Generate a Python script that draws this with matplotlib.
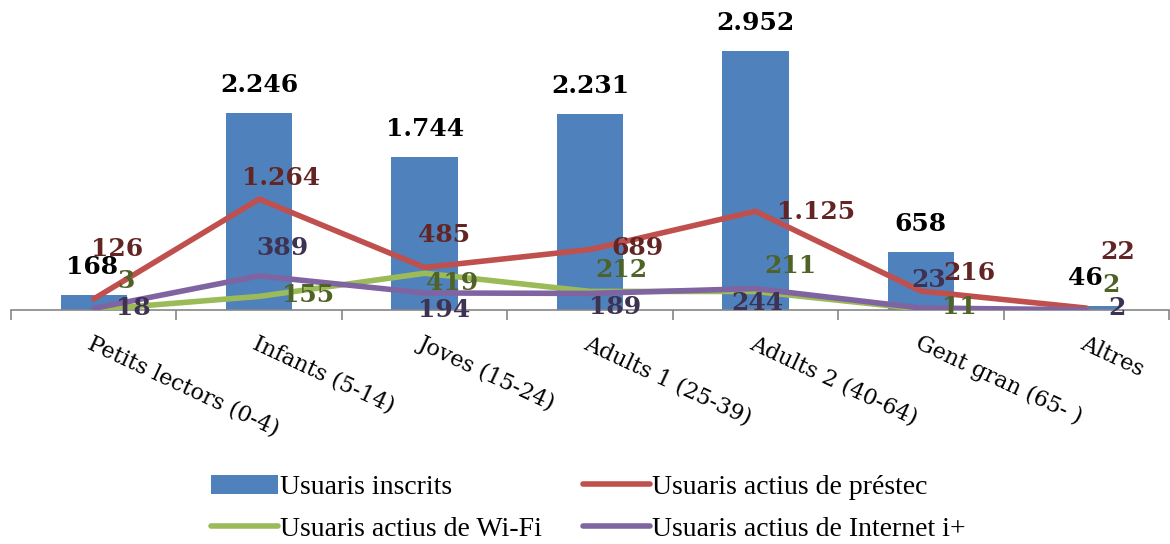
import matplotlib
matplotlib.use("Agg")
import matplotlib.pyplot as plt
import numpy as np

categories = ["Petits lectors (0-4)", "Infants (5-14)", "Joves (15-24)", "Adults 1 (25-39)",
              "Adults 2 (40-64)", "Gent gran (65- )", "Altres"]
inscrits = [168, 2246, 1744, 2231, 2952, 658, 46]
prestec = [126, 1264, 485, 689, 1125, 216, 22]
wifi = [3, 155, 419, 212, 211, 11, 2]
internet = [18, 389, 194, 189, 244, 23, 2]

series_names = ["Usuaris inscrits", "Usuaris actius de préstec",
                "Usuaris actius de Wi-Fi", "Usuaris actius de Internet i+"]

def fmt(v):
    return f"{v:,}".replace(",", ".")

# label offsets in pixels (dx, dy) relative to the data point
off_bar = [(-2, 28), (0, 28), (0, 28), (0, 28), (0, 28), (0, 28), (-1, 28)]
off_prestec = [(23, 50), (22, 21), (19, 32), (48, 2), (61, -1), (49, 18), (31, 56)]
off_wifi = [(32, 29), (49, 1), (28, -10), (31, 21), (35, 25), (39, 2), (25, 25)]
off_internet = [(40, 0), (23, 28), (20, -17), (25, -14), (2, -14), (8, 28), (31, 2)]

W, H, DPI = 11.7, 5.44, 100
fig = plt.figure(figsize=(W, H), dpi=DPI)
ax = fig.add_axes([11 / 1170, 1 - 310 / 544, 1158 / 1170, 310 / 544])

x = np.arange(len(categories))
c_bar, c_red, c_green, c_purple = "#4F81BD", "#C0504D", "#9BBB59", "#8064A2"
t_red, t_green, t_purple = "#632523", "#4F6228", "#3F3151"

bars = ax.bar(x, inscrits, width=0.4, color=c_bar, label=series_names[0], zorder=2)
l1, = ax.plot(x, prestec, color=c_red, lw=4, label=series_names[1], zorder=3, solid_capstyle="round")
l2, = ax.plot(x, wifi, color=c_green, lw=4, label=series_names[2], zorder=3, solid_capstyle="round")
l3, = ax.plot(x, internet, color=c_purple, lw=4, label=series_names[3], zorder=4, solid_capstyle="round")

ax.set_xlim(-0.5, len(categories) - 0.5)
ax.set_ylim(0, 2952 * 310 / 259)

lab_font = dict(family="DejaVu Serif", fontweight="bold", fontsize=18)
def put(vals, offs, color):
    for xi, v, (dx, dy) in zip(x, vals, offs):
        ax.annotate(fmt(v), (xi, v), xytext=(dx * 72 / DPI, dy * 72 / DPI),
                    textcoords="offset points", ha="center", va="center",
                    color=color, zorder=6, **lab_font)

put(inscrits, off_bar, "black")
put(prestec, off_prestec, t_red)
put(wifi, off_wifi, t_green)
put(internet, off_internet, t_purple)

for s in ["top", "right", "left"]:
    ax.spines[s].set_visible(False)
ax.spines["bottom"].set_color("#868686")
ax.spines["bottom"].set_linewidth(1.2)
ax.set_yticks([])
ax.set_xticks(np.arange(-0.5, len(categories)), minor=True)
ax.set_xticks(x)
ax.set_xticklabels(categories, rotation=-25, ha="left", rotation_mode="anchor",
                   fontsize=16, family="DejaVu Serif")
ax.tick_params(axis="x", which="major", length=0, pad=16)
ax.tick_params(axis="x", which="minor", length=7, color="#868686", width=1.2)

leg_kw = dict(loc="center left", frameon=False, prop=dict(family="Liberation Serif", size=20),
              handlelength=2.4, handletextpad=0.1, labelspacing=0.58, borderaxespad=0,
              borderpad=0)
leg1 = fig.legend(handles=[bars, l2], labels=[series_names[0], series_names[2]],
                  bbox_to_anchor=(211 / 1170, 1 - 508 / 544), **leg_kw)
leg2 = fig.legend(handles=[l1, l3], labels=[series_names[1], series_names[3]],
                  bbox_to_anchor=(583 / 1170, 1 - 508 / 544), **leg_kw)

fig.savefig("out.png", dpi=DPI)
